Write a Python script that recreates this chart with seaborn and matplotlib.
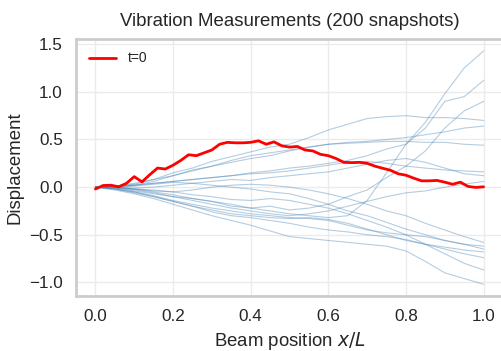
import numpy as np
import pandas as pd
import matplotlib
matplotlib.use("Agg")
import matplotlib.pyplot as plt
import seaborn as sns

# Beam positions
x_fine = np.linspace(0, 1, 51)   # t=0 snapshot
x_snap = np.linspace(0, 1, 21)   # other snapshots

# Red reference snapshot t=0 (51 points)
red_t0 = [-0.02, 0.017, 0.02, 0.003, 0.04, 0.11, 0.055, 0.13, 0.20, 0.19,
          0.23, 0.28, 0.34, 0.33, 0.36, 0.39, 0.45, 0.47, 0.465, 0.465,
          0.47, 0.486, 0.45, 0.475, 0.434, 0.42, 0.427, 0.39, 0.38, 0.344,
          0.33, 0.30, 0.26, 0.257, 0.26, 0.25, 0.22, 0.198, 0.177, 0.14,
          0.125, 0.094, 0.066, 0.066, 0.07, 0.052, 0.03, 0.052, 0.007, -0.003,
          0.003]

# Other snapshots (values at x = 0, 0.05, ..., 1.0)
snap_a = [0, 0.00, -0.02, -0.05, -0.08, -0.12, -0.15, -0.18, -0.22, -0.25, -0.28,
          -0.30, -0.32, -0.30, -0.14, 0.15, 0.45, 0.68, 0.98, 1.25, 1.43]
snap_b = [0, 0.01, 0.02, 0.04, 0.06, 0.08, 0.10, 0.12, 0.15, 0.17, 0.20,
          0.22, 0.25, 0.28, 0.33, 0.40, 0.45, 0.62, 0.90, 0.95, 1.12]
snap_c = [0, -0.01, -0.03, -0.06, -0.10, -0.12, -0.15, -0.20, -0.22, -0.20, -0.24,
          -0.22, -0.18, -0.10, -0.03, 0.10, 0.22, 0.38, 0.62, 0.80, 0.90]
snap_d = [0, 0.01, 0.03, 0.08, 0.15, 0.20, 0.27, 0.32, 0.37, 0.42, 0.45,
          0.52, 0.60, 0.66, 0.72, 0.74, 0.75, 0.73, 0.73, 0.72, 0.70]
snap_e = [0, 0.00, 0.02, 0.06, 0.12, 0.18, 0.22, 0.28, 0.33, 0.36, 0.39,
          0.42, 0.45, 0.47, 0.48, 0.50, 0.52, 0.55, 0.58, 0.62, 0.64]
snap_f = [0, 0.01, 0.04, 0.08, 0.12, 0.17, 0.22, 0.26, 0.30, 0.33, 0.38,
          0.42, 0.45, 0.46, 0.47, 0.48, 0.48, 0.47, 0.47, 0.45, 0.44]
snap_g = [0, 0.01, 0.02, 0.04, 0.06, 0.08, 0.10, 0.12, 0.14, 0.15, 0.17,
          0.20, 0.23, 0.26, 0.27, 0.25, 0.22, 0.20, 0.18, 0.17, 0.16]
snap_h = [0, 0.00, -0.01, 0.00, 0.02, 0.04, 0.06, 0.08, 0.07, 0.10, 0.12,
          0.14, 0.16, 0.20, 0.24, 0.28, 0.30, 0.26, 0.20, 0.14, 0.12]
snap_i = [0, -0.01, -0.04, -0.07, -0.10, -0.14, -0.18, -0.22, -0.25, -0.28, -0.30,
          -0.28, -0.25, -0.20, -0.15, -0.10, -0.06, -0.04, 0.00, 0.03, 0.06]
snap_j = [0, 0.00, -0.02, -0.04, -0.05, -0.03, 0.00, 0.02, 0.03, 0.02, 0.00,
          -0.03, -0.07, -0.12, -0.18, -0.25, -0.30, -0.38, -0.45, -0.52, -0.58]
snap_k = [0, -0.02, -0.05, -0.09, -0.14, -0.18, -0.22, -0.25, -0.28, -0.30, -0.32,
          -0.33, -0.35, -0.40, -0.45, -0.48, -0.50, -0.52, -0.56, -0.60, -0.62]
snap_l = [0, 0.00, 0.01, 0.03, 0.05, 0.04, 0.02, 0.00, -0.02, -0.05, -0.07,
          -0.12, -0.18, -0.25, -0.30, -0.37, -0.44, -0.50, -0.56, -0.60, -0.65]
snap_m = [0, -0.02, -0.06, -0.10, -0.15, -0.20, -0.24, -0.28, -0.30, -0.32, -0.33,
          -0.32, -0.34, -0.38, -0.44, -0.50, -0.56, -0.60, -0.63, -0.66, -0.68]
snap_n = [0, -0.02, -0.05, -0.10, -0.15, -0.20, -0.26, -0.30, -0.32, -0.35, -0.38,
          -0.42, -0.45, -0.47, -0.50, -0.52, -0.55, -0.60, -0.65, -0.70, -0.74]
snap_o = [0, -0.01, -0.02, -0.03, -0.05, -0.08, -0.10, -0.13, -0.14, -0.12, -0.14,
          -0.18, -0.22, -0.28, -0.35, -0.42, -0.50, -0.60, -0.70, -0.80, -0.87]
snap_p = [0, -0.03, -0.07, -0.12, -0.18, -0.24, -0.30, -0.35, -0.40, -0.46, -0.52,
          -0.54, -0.56, -0.58, -0.60, -0.62, -0.67, -0.78, -0.90, -0.96, -1.02]

snapshots = [snap_a, snap_b, snap_c, snap_d, snap_e, snap_f, snap_g, snap_h,
             snap_i, snap_j, snap_k, snap_l, snap_m, snap_n, snap_o, snap_p]

rows = []
for k, s in enumerate(snapshots):
    for xv, yv in zip(x_snap, s):
        rows.append({"snap": k, "x": xv, "y": yv})
df = pd.DataFrame(rows)
df_red = pd.DataFrame({"x": x_fine, "y": red_t0})

sns.set_theme(style="whitegrid", context="notebook", font_scale=1.12)
plt.rcParams["font.family"] = ["Liberation Sans", "DejaVu Sans"]
plt.rcParams["axes.edgecolor"] = "0.8"

fig = plt.figure(figsize=(5.01, 3.51), dpi=100)
ax = fig.add_axes([0.1517, 0.1567, 0.8523, 0.7322])

sns.lineplot(data=df, x="x", y="y", units="snap", estimator=None,
             color="steelblue", alpha=0.4, linewidth=0.8, ax=ax, legend=False)
sns.lineplot(data=df_red, x="x", y="y", color="red", linewidth=2.0,
             label="t=0", ax=ax)

ax.set_xlim(-0.05, 1.05)
ax.set_ylim(-1.143, 1.555)
ax.set_xticks([0.0, 0.2, 0.4, 0.6, 0.8, 1.0])
ax.set_yticks([-1.0, -0.5, 0.0, 0.5, 1.0, 1.5])
ax.set_xlabel("Beam position $x/L$")
ax.set_ylabel("Displacement")
ax.set_title("Vibration Measurements (200 snapshots)", pad=9)
for sp in ax.spines.values():
    sp.set_linewidth(2.0)
    sp.set_color("0.8")
ax.grid(color="0.92", linewidth=1.0)
ax.legend(loc="upper left", frameon=False, fontsize=10)

fig.savefig("out.png", dpi=100)
